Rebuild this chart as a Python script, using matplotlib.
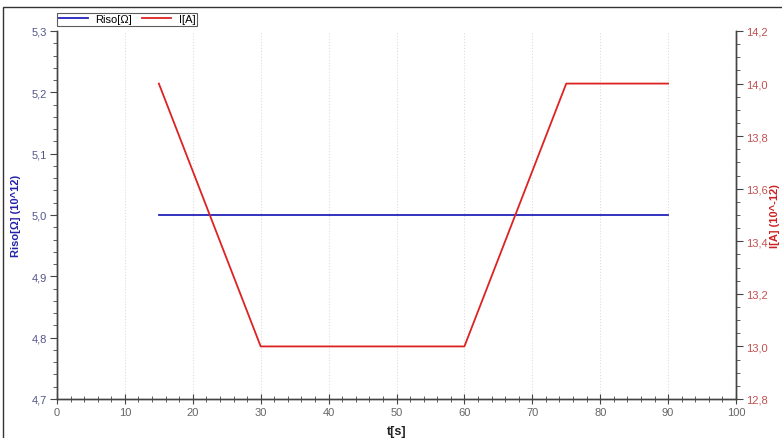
import matplotlib
matplotlib.use("Agg")
import matplotlib.pyplot as plt
from matplotlib.patches import Rectangle
from matplotlib.ticker import MultipleLocator, FuncFormatter

t_riso = [15, 30, 45, 60, 75, 90]
riso = [5.0, 5.0, 5.0, 5.0, 5.0, 5.0]
t_i = [15, 30, 45, 60, 75, 90]
current = [14.0, 13.0, 13.0, 13.0, 14.0, 14.0]

plt.rcParams['font.family'] = ['Liberation Sans', 'DejaVu Sans']

fig = plt.figure(figsize=(7.82, 4.39), dpi=100)
ax = fig.add_axes([57/782, 39/439, (736-57)/782, (400-32)/439])
ax2 = ax.twinx()

blue = '#2222bb'
red = '#dd2222'
ax.plot(t_riso, riso, color=blue, lw=1.3, label='Riso[Ω]')
ax2.plot(t_i, current, color=red, lw=1.3, label='I[A]')

ax.set_xlim(0, 100)
ax.set_ylim(4.7, 5.3)
ax2.set_ylim(12.8, 14.2)

ax.xaxis.set_major_locator(MultipleLocator(10))
ax.xaxis.set_minor_locator(MultipleLocator(2))
ax.yaxis.set_major_locator(MultipleLocator(0.1))
ax.yaxis.set_minor_locator(MultipleLocator(0.02))
ax2.yaxis.set_major_locator(MultipleLocator(0.2))
ax2.yaxis.set_minor_locator(MultipleLocator(0.05))

comma1 = FuncFormatter(lambda v, p: f"{v:.1f}".replace('.', ','))
ax.yaxis.set_major_formatter(comma1)
ax2.yaxis.set_major_formatter(comma1)

ax.grid(axis='x', which='major', color='#dddddd', ls=':', lw=0.8)

for a in (ax, ax2):
    for s in a.spines.values():
        s.set_color('#444444')
        s.set_linewidth(1.0)
ax.spines['top'].set_visible(False)
ax2.spines['top'].set_visible(False)

ax.tick_params(axis='x', which='major', direction='inout', length=7, colors='#444444', labelsize=8, labelcolor='#666666', pad=2)
ax.tick_params(axis='x', which='minor', direction='inout', length=5, colors='#444444')
ax.tick_params(axis='y', which='major', direction='out', length=5, colors='#444444', labelsize=8, labelcolor='#55558a', pad=2)
ax.tick_params(axis='y', which='minor', direction='out', length=3, colors='#444444')
ax2.tick_params(axis='y', which='major', direction='out', length=5, colors='#444444', labelsize=8, labelcolor='#c05050', pad=2)
ax2.tick_params(axis='y', which='minor', direction='out', length=3, colors='#444444')

ax.set_xlabel('t[s]', fontsize=9, fontweight='bold', color='#222222', labelpad=6)
ax.set_ylabel('Riso[Ω] (10^12)', fontsize=8, fontweight='bold', color='#2222aa', labelpad=8)
ax2.set_ylabel('I[A] (10^-12)', fontsize=8, fontweight='bold', color='#cc2222', rotation=90, labelpad=2)

h1, l1 = ax.get_legend_handles_labels()
h2, l2 = ax2.get_legend_handles_labels()
leg = fig.legend(h1 + h2, l1 + l2, loc='lower left', bbox_to_anchor=(57/782, 1 - 27/439),
                 ncol=2, frameon=True, fancybox=False, fontsize=8, borderpad=0.15,
                 handlelength=2.6, columnspacing=0.9, handletextpad=0.7, borderaxespad=0)
leg.get_frame().set_edgecolor('#333333')
leg.get_frame().set_linewidth(0.8)

fig.patches.append(Rectangle((3/782, -0.1), 1.2, 1 - 8/439 + 0.1, transform=fig.transFigure,
                             fill=False, edgecolor='#333333', lw=1.0))

fig.savefig('out.png', dpi=100)
